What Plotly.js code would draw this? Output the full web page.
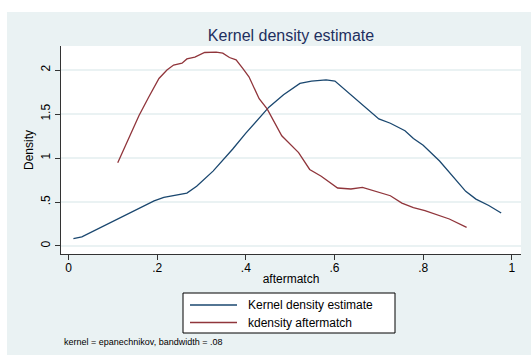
<!DOCTYPE html>
<html>
<head>
<meta charset="utf-8">
<script src="https://cdn.plot.ly/plotly-3.0.1.min.js"></script>
<style>html,body{margin:0;padding:0;background:#fff;}#chart{width:531px;height:362px;}</style>
</head>
<body>
<div id="chart"></div>
<script>
// Series 1: "Kernel density estimate" (blue)
const kdeX = [0.011, 0.030, 0.193, 0.215, 0.267, 0.289, 0.326, 0.370, 0.400, 0.426, 0.452, 0.485, 0.522, 0.548, 0.581, 0.601, 0.652, 0.700, 0.726, 0.759, 0.778, 0.800, 0.837, 0.874, 0.896, 0.919, 0.948, 0.976];
const kdeY = [0.084, 0.103, 0.513, 0.552, 0.602, 0.678, 0.851, 1.100, 1.283, 1.425, 1.578, 1.720, 1.847, 1.874, 1.889, 1.874, 1.655, 1.444, 1.395, 1.310, 1.222, 1.146, 0.966, 0.755, 0.621, 0.533, 0.460, 0.375];

// Series 2: "kdensity aftermatch" (red)
const kdX = [0.111, 0.133, 0.159, 0.181, 0.204, 0.222, 0.237, 0.256, 0.267, 0.285, 0.307, 0.333, 0.348, 0.363, 0.378, 0.393, 0.407, 0.430, 0.448, 0.481, 0.519, 0.544, 0.570, 0.607, 0.637, 0.663, 0.696, 0.726, 0.752, 0.778, 0.804, 0.833, 0.859, 0.898];
const kdY = [0.946, 1.195, 1.483, 1.693, 1.904, 2.000, 2.057, 2.077, 2.126, 2.146, 2.199, 2.203, 2.192, 2.142, 2.115, 2.019, 1.923, 1.674, 1.559, 1.253, 1.061, 0.870, 0.793, 0.659, 0.648, 0.667, 0.621, 0.571, 0.487, 0.437, 0.402, 0.349, 0.307, 0.211];

const xTickVals = [0, 0.2, 0.4, 0.6, 0.8, 1];
const xTickText = ['0', '.2', '.4', '.6', '.8', '1'];
const yTickVals = [0, 0.5, 1, 1.5, 2];
const yTickText = ['0', '.5', '1', '1.5', '2'];

const seriesNames = ['Kernel density estimate', 'kdensity aftermatch'];
const seriesColors = ['#1a476f', '#90353b'];
const titleText = 'Kernel density estimate';
const xTitle = 'aftermatch';
const yTitle = 'Density';
const noteText = 'kernel = epanechnikov, bandwidth = .08';

const font = 'Liberation Sans, Arial, sans-serif';
const bg = '#eaf2f3';

// pixel -> paper helpers (plot area: left 61, width 460, top 46, height 208)
const W = 531, H = 362, ML = 61, MR = 10, MT = 46, MB = 108;
const PW = W - ML - MR, PH = H - MT - MB;
const px = v => (v - ML) / PW;
const py = v => (H - MB - v) / PH;

const traces = [
  {x: kdeX, y: kdeY, type: 'scatter', mode: 'lines', name: seriesNames[0],
   line: {color: seriesColors[0], width: 1.3}, showlegend: false},
  {x: kdX, y: kdY, type: 'scatter', mode: 'lines', name: seriesNames[1],
   line: {color: seriesColors[1], width: 1.3}, showlegend: false}
];

// legend drawn as box + sample lines + labels
const legBox = {x0: 183, x1: 395, y0: 293, y1: 333};
const legRows = [305, 322.5];

const shapes = [
  {type: 'rect', xref: 'paper', yref: 'paper', x0: px(7), x1: px(540), y0: py(355), y1: py(12),
   fillcolor: bg, line: {width: 0}, layer: 'below'},
  {type: 'rect', xref: 'paper', yref: 'paper', x0: 0, x1: 1, y0: 0, y1: 1,
   fillcolor: '#ffffff', line: {width: 0}, layer: 'below'},
  {type: 'rect', xref: 'paper', yref: 'paper', x0: px(legBox.x0), x1: px(legBox.x1), y0: py(legBox.y1), y1: py(legBox.y0),
   fillcolor: '#ffffff', line: {color: '#000', width: 1}, layer: 'above'}
];
const annotations = [
  {text: noteText, xref: 'paper', yref: 'paper', x: px(62), xanchor: 'left',
   y: py(342), yanchor: 'middle', showarrow: false, font: {size: 9, color: '#000'}}
];
seriesNames.forEach((n, i) => {
  shapes.push({type: 'line', xref: 'paper', yref: 'paper', x0: px(190), x1: px(237), y0: py(legRows[i]), y1: py(legRows[i]),
               line: {color: seriesColors[i], width: 1.3}, layer: 'above'});
  annotations.push({text: n, xref: 'paper', yref: 'paper', x: px(246), xanchor: 'left',
                    y: py(legRows[i]), yanchor: 'middle', showarrow: false, font: {size: 12, color: '#000'}});
});

const layout = {
  width: W, height: H,
  margin: {l: ML, r: MR, t: MT, b: MB},
  paper_bgcolor: '#ffffff',
  plot_bgcolor: '#ffffff',
  font: {family: font, color: '#000', size: 12},
  title: {text: titleText, x: 0.5, xref: 'paper', xanchor: 'center', y: 1 - 35.5/362, yanchor: 'middle',
          font: {family: font, size: 16, color: '#1e2f5e'}},
  xaxis: {
    range: [-0.017, 1.0207], tickvals: xTickVals, ticktext: xTickText,
    showgrid: false, zeroline: false, showline: true, linecolor: '#333', linewidth: 1,
    ticks: 'outside', ticklen: 5, tickcolor: '#333', ticklabelstandoff: -2,
    tickfont: {size: 12, color: '#000'},
    title: {text: xTitle, font: {size: 12, color: '#000'}, standoff: 0}
  },
  yaxis: {
    range: [-0.091, 2.273], tickvals: yTickVals, ticktext: yTickText, tickangle: -90,
    showgrid: true, gridcolor: bg, gridwidth: 1.5, zeroline: false,
    showline: true, linecolor: '#333', linewidth: 1,
    ticks: 'outside', ticklen: 5, tickcolor: '#333',
    tickfont: {size: 12, color: '#000'},
    title: {text: yTitle, font: {size: 12, color: '#000'}, standoff: 3}
  },
  showlegend: false,
  shapes: shapes,
  annotations: annotations
};

Plotly.newPlot('chart', traces, layout, {displayModeBar: false, staticPlot: true});
</script>
</body>
</html>
